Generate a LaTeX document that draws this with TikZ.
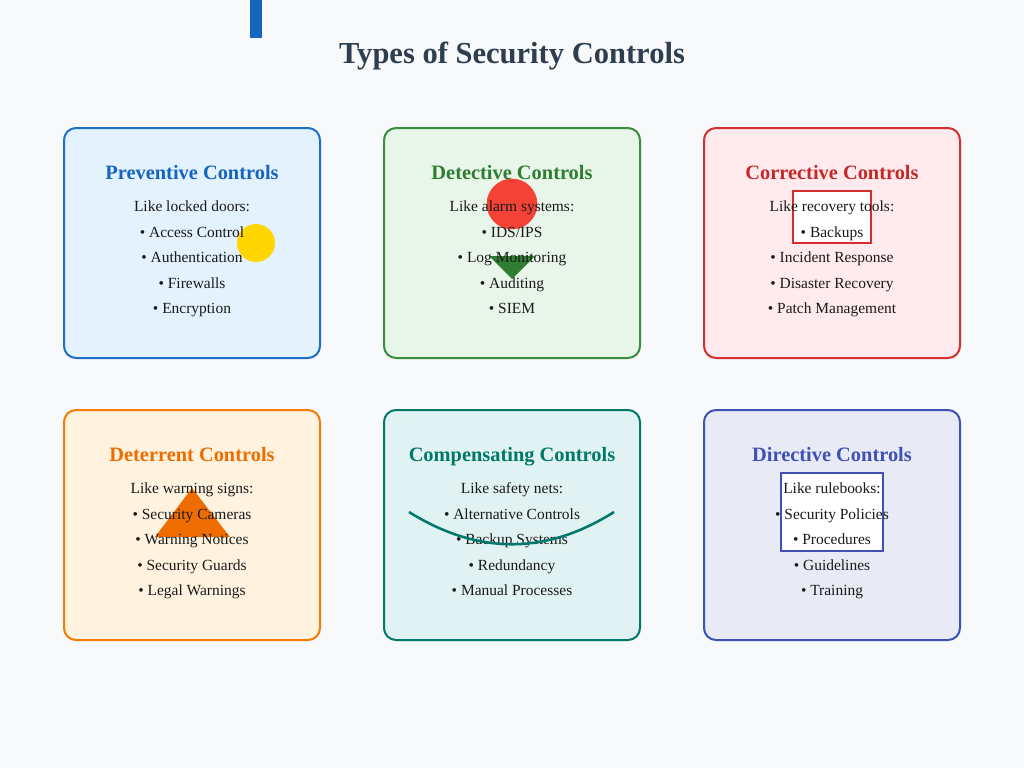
\documentclass[tikz,border=0pt]{standalone}
\usepackage{fontspec}
\setmainfont{Liberation Serif}
\definecolor{pagebg}{HTML}{F8F9FA}
\definecolor{ttlcol}{HTML}{2C3E50}
\definecolor{cBlue}{HTML}{1E6FC8}\definecolor{tBlue}{HTML}{1565C0}\definecolor{bBlue}{HTML}{E3F2FD}
\definecolor{cGreen}{HTML}{388E3C}\definecolor{tGreen}{HTML}{2E7D32}\definecolor{bGreen}{HTML}{E8F5E9}
\definecolor{cRed}{HTML}{D32F2F}\definecolor{tRed}{HTML}{C62828}\definecolor{bRed}{HTML}{FFEBEE}
\definecolor{cOrange}{HTML}{F57C00}\definecolor{tOrange}{HTML}{EF6C00}\definecolor{bOrange}{HTML}{FFF3E0}
\definecolor{cTeal}{HTML}{00796B}\definecolor{bTeal}{HTML}{E0F2F1}
\definecolor{cIndigo}{HTML}{3F51B5}\definecolor{bIndigo}{HTML}{E8EAF6}
\definecolor{dYellow}{HTML}{FFD600}
\definecolor{dRed}{HTML}{F44336}
\definecolor{bodytxt}{HTML}{1A1A1A}
\begin{document}
\begin{tikzpicture}[x=0.75pt,y=-0.75pt,
  card/.style={rectangle, rounded corners=9pt, line width=1.5pt, minimum width=192pt, minimum height=172.5pt, inner sep=0pt},
  cardtitle/.style={anchor=base, font=\fontsize{15.3pt}{18pt}\selectfont\bfseries, inner sep=0pt},
  bodyline/.style={anchor=base, font=\fontsize{11.6pt}{14pt}\selectfont, text=bodytxt, inner sep=0pt},
  maintitle/.style={anchor=base, font=\fontsize{22.9pt}{27pt}\selectfont\bfseries, text=ttlcol, inner sep=0pt}]
\useasboundingbox[fill=pagebg] (0,0) rectangle (1024,768);
% top accent bar
\fill[tBlue] (250,0) rectangle (262,38);
\node[maintitle] (title) at (512,63) {Types of Security Controls};
% cards
\node[card, draw=cBlue, fill=bBlue] (c1) at (192,243) {};
\node[card, draw=cGreen, fill=bGreen] (c2) at (512,243) {};
\node[card, draw=cRed, fill=bRed] (c3) at (832,243) {};
\node[card, draw=cOrange, fill=bOrange] (c4) at (192,525) {};
\node[card, draw=cTeal, fill=bTeal] (c5) at (512,525) {};
\node[card, draw=cIndigo, fill=bIndigo] (c6) at (832,525) {};
% decorations
\fill[dYellow] (256,243) circle[radius=14.25pt];
\fill[dRed] (512,204) circle[radius=19pt];
\fill[tGreen] (489,256) -- (535,256) -- (512,279) -- cycle;
\draw[cRed, line width=1.6pt, fill=white] (793,191) rectangle (871,243);
\fill[tOrange] (192,488) -- (230,537) -- (155,537) -- cycle;
\draw[cIndigo, line width=1.8pt, fill=white] (781,473) rectangle (883,551);
% texts: Preventive
\node[cardtitle, text=tBlue] (t1) at (192,179) {Preventive Controls};
\node[bodyline] (t1a) at (192,211) {Like locked doors:};
\node[bodyline] (t1b) at (192,237) {• Access Control};
\node[bodyline] (t1c) at (192,262.5) {• Authentication};
\node[bodyline] (t1d) at (192,288) {• Firewalls};
\node[bodyline] (t1e) at (192,313.5) {• Encryption};
% Detective
\node[cardtitle, text=tGreen] (t2) at (512,179) {Detective Controls};
\node[bodyline] (t2a) at (512,211) {Like alarm systems:};
\node[bodyline] (t2b) at (512,237) {• IDS/IPS};
\node[bodyline] (t2c) at (512,262.5) {• Log Monitoring};
\node[bodyline] (t2d) at (512,288) {• Auditing};
\node[bodyline] (t2e) at (512,313.5) {• SIEM};
% Corrective
\node[cardtitle, text=tRed] (t3) at (832,179) {Corrective Controls};
\node[bodyline] (t3a) at (832,211) {Like recovery tools:};
\node[bodyline] (t3b) at (832,237) {• Backups};
\node[bodyline] (t3c) at (832,262.5) {• Incident Response};
\node[bodyline] (t3d) at (832,288) {• Disaster Recovery};
\node[bodyline] (t3e) at (832,313.5) {• Patch Management};
% Deterrent
\node[cardtitle, text=tOrange] (t4) at (192,461) {Deterrent Controls};
\node[bodyline] (t4a) at (192,493) {Like warning signs:};
\node[bodyline] (t4b) at (192,519) {• Security Cameras};
\node[bodyline] (t4c) at (192,544.5) {• Warning Notices};
\node[bodyline] (t4d) at (192,570) {• Security Guards};
\node[bodyline] (t4e) at (192,595.5) {• Legal Warnings};
% Compensating
\node[cardtitle, text=cTeal] (t5) at (512,461) {Compensating Controls};
\node[bodyline] (t5a) at (512,493) {Like safety nets:};
\node[bodyline] (t5b) at (512,519) {• Alternative Controls};
\node[bodyline] (t5c) at (512,544.5) {• Backup Systems};
\node[bodyline] (t5d) at (512,570) {• Redundancy};
\node[bodyline] (t5e) at (512,595.5) {• Manual Processes};
% Directive
\node[cardtitle, text=cIndigo] (t6) at (832,461) {Directive Controls};
\node[bodyline] (t6a) at (832,493) {Like rulebooks:};
\node[bodyline] (t6b) at (832,519) {• Security Policies};
\node[bodyline] (t6c) at (832,544.5) {• Procedures};
\node[bodyline] (t6d) at (832,570) {• Guidelines};
\node[bodyline] (t6e) at (832,595.5) {• Training};
% safety net arc (over text)
\draw[cTeal, line width=1.9pt] (409,512) .. controls (478,555) and (546,555) .. (614,512);
\end{tikzpicture}
\end{document}
